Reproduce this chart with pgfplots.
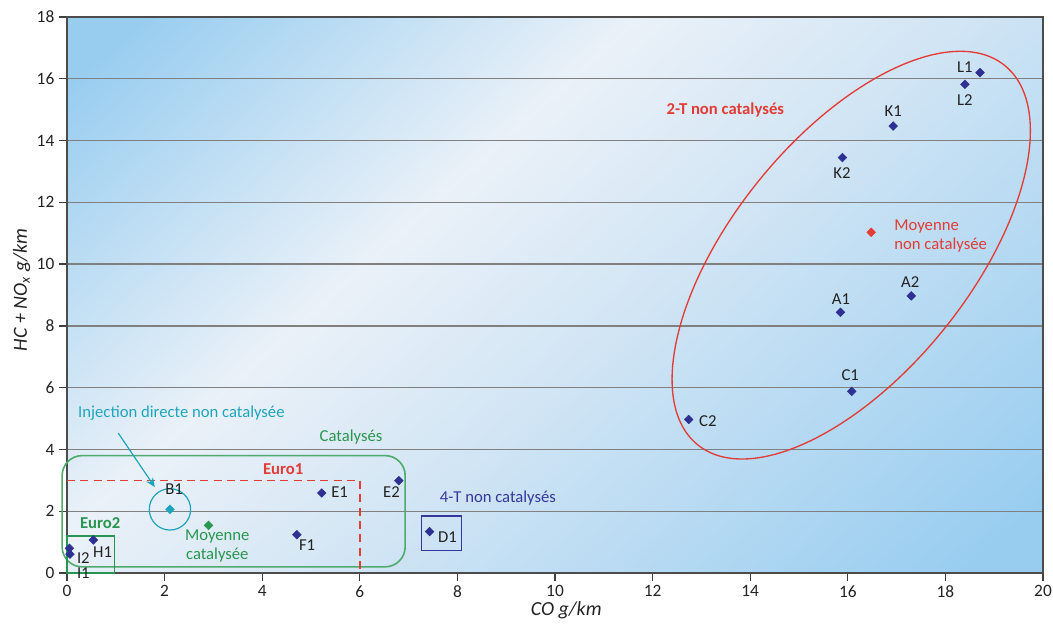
\documentclass[border=0pt]{standalone}
\usepackage{pgfplots}
\pgfplotsset{compat=1.18}
\usepackage{fontspec}
\setmainfont{Carlito}
\usetikzlibrary{arrows.meta}
\definecolor{bgblue}{RGB}{152,205,240}
\definecolor{bgwhite}{RGB}{234,241,248}
\definecolor{bgmid}{RGB}{214,231,245}
\definecolor{ptblue}{RGB}{46,49,146}
\definecolor{myred}{RGB}{226,60,55}
\definecolor{mygreen}{RGB}{40,150,80}
\definecolor{lgreen}{RGB}{80,170,110}
\definecolor{mycyan}{RGB}{30,165,190}
\definecolor{navy}{RGB}{55,55,155}
\definecolor{txt}{RGB}{35,35,35}
\pgfdeclarehorizontalshading{bgshade}{100bp}{color(0bp)=(bgblue); color(18bp)=(bgblue); color(40bp)=(bgwhite); color(52bp)=(bgmid); color(82bp)=(bgblue); color(100bp)=(bgblue)}
\pgfplotstableread{
x y
18.71 16.20
18.40 15.82
16.93 14.47
15.89 13.45
17.30 8.97
15.85 8.44
16.08 5.88
12.74 4.97
7.43 1.34
6.80 2.99
5.22 2.59
4.71 1.24
0.54 1.07
0.05 0.80
0.06 0.61
}\bluepts
\newcommand{\fs}{\fontsize{12.5}{14.5}\selectfont}
\newcommand{\fl}{\fontsize{15}{17}\selectfont}
\begin{document}
\begin{tikzpicture}
\path[use as bounding box] (-50.25pt,-38.25pt) rectangle (739.5pt,429.75pt);
\begin{axis}[
  at={(0pt,0pt)}, anchor=south west,
  scale only axis, width=732pt, height=417pt,
  xmin=0, xmax=20, ymin=0, ymax=18,
  xtick={0,2,...,20}, ytick={0,2,...,18},
  tick pos=left, tick align=outside, major tick length=6pt,
  tick style={draw=black!75, line width=1pt},
  ymajorgrids, grid style={draw=black!50, line width=1pt},
  axis line style={draw=black!70, line width=1.6pt},
  axis background/.style={shade, shading=bgshade, shading angle=-48},
  /pgf/number format/assume math mode=true,
  ticklabel style={font=\fontsize{13}{15}\selectfont, text=txt},
  xlabel={\itshape CO g/km},
  ylabel={\itshape HC + NO\textsubscript{x} g/km},
  xlabel style={font=\fl, text=txt, at={(axis cs:10.23,0)}, anchor=base, yshift=-32pt},
  ylabel style={font=\fl, text=txt, at={(axis cs:0,9.16)}, anchor=center, yshift=34pt},
  clip=false,
]
% shapes
\draw[lgreen, line width=1.2pt, rounded corners=15pt] (axis cs:-0.1,0.2) rectangle (axis cs:6.93,3.8);
\draw[myred, line width=1.1pt, dash pattern=on 6pt off 4pt] (axis cs:0,3) -- (axis cs:6,3) -- (axis cs:6,0);
\draw[mygreen, line width=1pt] (axis cs:0,0) rectangle (axis cs:0.98,1.2);
\draw[navy, line width=1pt] (axis cs:7.27,0.72) rectangle (axis cs:8.09,1.84);
\draw[mycyan, line width=0.9pt] (axis cs:2.11,2.06) circle [radius=15.5pt];
\draw[mycyan, line width=0.9pt, -{Stealth[length=7pt,width=6pt]}] (axis cs:1.05,4.53) -- (axis cs:1.80,2.78);
\coordinate (ec) at (axis cs:16.07,10.29);
\draw[myred, line width=1pt, rotate around={51:(ec)}] (ec) ellipse [x radius=183pt, y radius=89pt];
% points
\addplot[only marks, mark=square*, mark size=2.3pt, mark options={rotate=45}, color=ptblue] table {\bluepts};
\addplot[only marks, mark=square*, mark size=2.3pt, mark options={rotate=45}, color=myred] coordinates {(16.48,11.03)};
\addplot[only marks, mark=square*, mark size=2.3pt, mark options={rotate=45}, color=mygreen] coordinates {(2.90,1.54)};
\addplot[only marks, mark=square*, mark size=2.3pt, mark options={rotate=45}, color=mycyan] coordinates {(2.11,2.06)};
% labels
\begin{scope}[every node/.style={font=\fs, text=txt, inner sep=0pt}]
\node at (axis cs:18.4,16.39) {L1};
\node at (axis cs:18.4,15.31) {L2};
\node at (axis cs:16.93,14.96) {K1};
\node at (axis cs:15.88,12.94) {K2};
\node at (axis cs:17.28,9.41) {A2};
\node at (axis cs:15.86,8.86) {A1};
\node at (axis cs:16.05,6.39) {C1};
\node[anchor=west] at (axis cs:12.95,4.93) {C2};
\node[anchor=west] at (axis cs:7.60,1.17) {D1};
\node at (axis cs:6.65,2.62) {E2};
\node[anchor=west] at (axis cs:5.41,2.62) {E1};
\node[anchor=west] at (axis cs:4.75,0.91) {F1};
\node[anchor=west] at (axis cs:2.01,2.72) {B1};
\node[anchor=west] at (axis cs:0.53,0.69) {H1};
\node[anchor=west] at (axis cs:0.20,0.47) {I2};
\node[anchor=west] at (axis cs:0.20,0.0) {I1};
\node[text=myred, font=\fs\bfseries] at (axis cs:13.49,14.98) {2-T non catalysés};
\node[text=myred, anchor=west, align=left] at (axis cs:16.95,10.92) {Moyenne\\non catalysée};
\node[text=mycyan, anchor=west] at (axis cs:0.225,5.18) {Injection directe non catalysée};
\node[text=mygreen] at (axis cs:5.82,4.41) {Catalysés};
\node[text=myred, font=\fs\bfseries] at (axis cs:4.43,3.37) {Euro1};
\node[text=mygreen, font=\fs\bfseries] at (axis cs:0.68,1.62) {Euro2};
\node[text=mygreen, align=center] at (axis cs:3.08,0.87) {Moyenne\\catalysée};
\node[text=navy] at (axis cs:8.83,2.44) {4-T non catalysés};
\end{scope}
\end{axis}
\end{tikzpicture}
\end{document}
